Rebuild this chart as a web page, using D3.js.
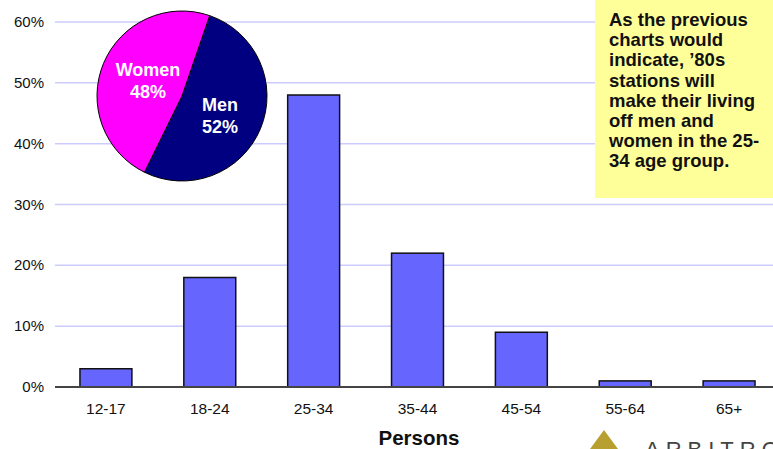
<!DOCTYPE html>
<html><head><meta charset="utf-8">
<script src="https://cdn.jsdelivr.net/npm/d3@7"></script>
<style>body{margin:0;background:#fff}svg{display:block}</style>
</head><body>
<svg id="c" width="773" height="449"></svg>
<script>
const categories = ["12-17","18-24","25-34","35-44","45-54","55-64","65+"];
const values = [3,18,48,22,9,1,1];
const yTicks = [0,10,20,30,40,50,60];
const pieLabels = ["Men","Women"];
const pieValues = [52,48];
const noteLines = ["As the previous","charts would","indicate, \u201980s","stations will","make their living","off men and","women in the 25-","34 age group."];

const svg = d3.select("#c");
const font = "Arial, 'Liberation Sans', Helvetica, sans-serif";
const x = d3.scaleBand().domain(categories).range([54, 781]).paddingInner(0.5).paddingOuter(0.25);
const y = d3.scaleLinear().domain([0,60]).range([387,22]);

// gridlines
svg.append("g").selectAll("line").data(yTicks.filter(d=>d>0)).join("line")
  .attr("x1",55).attr("x2",773).attr("y1",d=>y(d)).attr("y2",d=>y(d))
  .attr("stroke","#ccccff").attr("stroke-width",1.5);

// y labels
svg.append("g").selectAll("text").data(yTicks).join("text")
  .attr("x",44).attr("y",d=>y(d)+5).attr("text-anchor","end")
  .attr("font-family",font).attr("font-size",15).attr("fill","#111")
  .text(d=>d+"%");

// bars
svg.append("g").selectAll("rect").data(values).join("rect")
  .attr("x",(d,i)=>x(categories[i])).attr("width",x.bandwidth())
  .attr("y",d=>y(d)).attr("height",d=>y(0)-y(d))
  .attr("fill","#6666ff").attr("stroke","#111").attr("stroke-width",1.5);

// baseline
svg.append("line").attr("x1",55).attr("x2",773).attr("y1",y(0)).attr("y2",y(0))
  .attr("stroke","#444").attr("stroke-width",2);

// x labels
svg.append("g").selectAll("text").data(categories).join("text")
  .attr("x",d=>x(d)+x.bandwidth()/2).attr("y",414).attr("text-anchor","middle")
  .attr("font-family",font).attr("font-size",15.5).attr("fill","#111").text(d=>d);

svg.append("text").attr("x",419).attr("y",445).attr("text-anchor","middle")
  .attr("font-family",font).attr("font-size",20.5).attr("font-weight","bold").attr("fill","#111")
  .text("Persons");

// pie
const cx=182, cy=96, r=85;
const start = 19*Math.PI/180;
const pie = d3.pie().sort(null).value(d=>d).startAngle(start).endAngle(start+2*Math.PI);
const arcs = pie(pieValues);
const arc = d3.arc().innerRadius(0).outerRadius(r);
const pg = svg.append("g").attr("transform",`translate(${cx},${cy})`);
const pieColors = ["#000080","#ff00ff"];
pg.selectAll("path").data(arcs).join("path").attr("d",arc)
  .attr("fill",(d,i)=>pieColors[i]).attr("stroke","#000").attr("stroke-width",1);
const labelPos = [[220,105],[148,70]];
arcs.forEach((a,i)=>{
  const t = svg.append("text").attr("font-family",font).attr("font-size",18).attr("font-weight","bold")
    .attr("fill","#fff").attr("text-anchor","middle");
  t.append("tspan").attr("x",labelPos[i][0]).attr("y",labelPos[i][1]+6).text(pieLabels[i]);
  t.append("tspan").attr("x",labelPos[i][0]).attr("y",labelPos[i][1]+28).text(pieValues[i]+"%");
});

// note box
svg.append("rect").attr("x",595).attr("y",0).attr("width",178).attr("height",198).attr("fill","#ffff99");
const nt = svg.append("text").attr("font-family",font).attr("font-size",18.5).attr("font-weight","bold").attr("fill","#111");
noteLines.forEach((l,i)=>nt.append("tspan").attr("x",609).attr("y",26+i*20.2).text(l));

// logo
svg.append("path").attr("d","M604,430 L618,449 L590,449 Z").attr("fill","#b8a030");
svg.append("text").attr("x",645).attr("y",457).attr("font-family",font).attr("font-size",22)
  .attr("letter-spacing",6).attr("fill","#444").text("ARBITRON");
</script>
</body></html>
